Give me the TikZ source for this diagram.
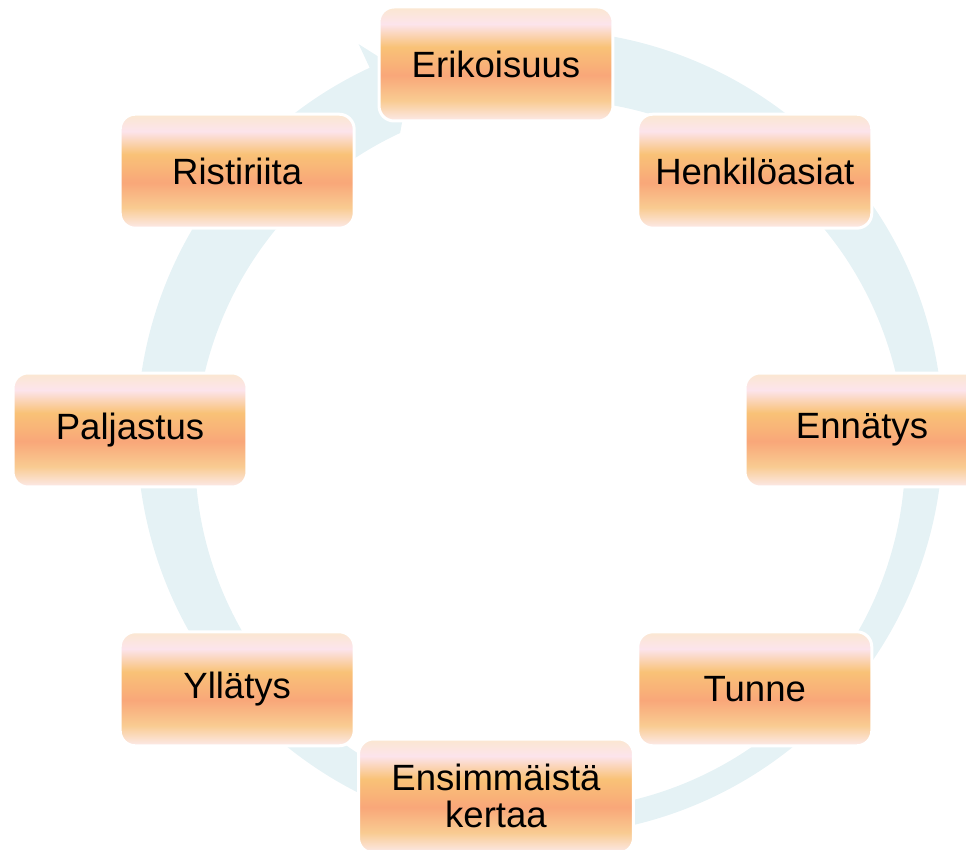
\documentclass[tikz,border=0pt]{standalone}
\usepackage{fontspec}
\setmainfont{Liberation Sans}
\usepackage{tikz}
\usetikzlibrary{positioning,calc}

\definecolor{ringblue}{HTML}{E5F2F5}
\definecolor{gtop}{HTML}{FBE7D0}
\definecolor{gpink}{HTML}{FCE4EC}
\definecolor{gorange}{HTML}{F9C277}
\definecolor{gsalmon}{HTML}{F9A779}
\definecolor{glight}{HTML}{F9CB91}
\definecolor{gbottom}{HTML}{FCEAEA}

\pgfdeclareverticalshading{boxgrad}{100bp}{%
  color(0bp)=(gbottom); color(25bp)=(gbottom); color(34bp)=(glight);
  color(45bp)=(gsalmon); color(57.5bp)=(gorange); color(67.5bp)=(gpink);
  color(75bp)=(gtop); color(100bp)=(gtop)}

\begin{document}
\begin{tikzpicture}[
  x=0.02cm, y=0.02cm,
  every node/.style={font=\fontsize{20.8}{21}\selectfont},
  stagebox/.style={draw=white, line width=1.7pt, rounded corners=0.3cm,
                   shading=boxgrad, minimum width=#1, minimum height=2.28cm,
                   align=center, inner sep=4pt},
  stagebox/.default=4.68cm]

\useasboundingbox (0,0) rectangle (966,849);
\coordinate (hub)   at (496,419);
\coordinate (ringc) at (540,416);

%% circular arrow behind the boxes (clockwise, head at the top)
\fill[ringblue] ($(ringc)+(100:403)$) arc[start angle=100, end angle=-245, radius=403]
    -- ($(ringc)+(-245:429)$) -- ($(ringc)+(-250:379)$) -- ($(ringc)+(-245:331)$)
    arc[start angle=-245, end angle=100, radius=355] -- cycle;

\node[stagebox] (erik)  at ($(hub)+(90:366)$)  {Erikoisuus};
\node[stagebox] (henk)  at ($(hub)+(45:366)$)  {Henkilöasiat};
\node[stagebox] (enna)  at ($(hub)+(0:366)$)   {Ennätys};
\node[stagebox] (tunne) at ($(hub)+(-45:366)$) {Tunne};
\node[stagebox=5.5cm] (ensi) at ($(hub)+(-90:366)$) {Ensimmäistä\\kertaa};
\node[stagebox] (yllat) at ($(hub)+(-135:366)$) {Yllätys};
\node[stagebox] (palja) at ($(hub)+(180:366)$) {Paljastus};
\node[stagebox] (risti) at ($(hub)+(135:366)$) {Ristiriita};
\end{tikzpicture}
\end{document}
